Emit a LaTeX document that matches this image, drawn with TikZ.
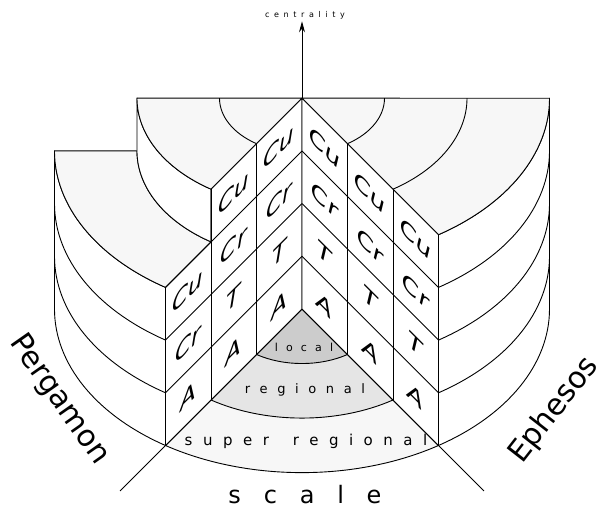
\documentclass[tikz,border=0pt]{standalone}
\usepackage{fontspec}
\setmainfont{DejaVu Sans}
\usetikzlibrary{arrows.meta,positioning,calc}

\newcommand{\wallstep}{45.5}
\newcommand{\tier}{52.7}
\newcommand{\ringx}{82.5}
\newcommand{\ringy}{54.54}
\newcommand{\angl}{236.53}
\newcommand{\angr}{303.47}

\begin{document}
\begin{tikzpicture}[x=1pt, y=1pt, line width=0.9pt, line join=round,
  topface/.style={fill=black!3},
  wallface/.style={fill=white},
  wallletter/.style={transform shape, inner sep=0pt, font=\fontsize{23}{23}\selectfont\itshape},
  lwall/.style={wallletter, cm={1,1,0,1,(0,0)}},
  rwall/.style={wallletter, cm={1,-1,0,1,(0,0)}},
  spaced/.style 2 args={inner sep=0pt, font=\fontsize{#1}{#1}\selectfont\addfontfeature{LetterSpace=#2}},
  city/.style={inner sep=0pt, font=\fontsize{30}{30}\selectfont}]
\useasboundingbox (-302,-201) rectangle (303,309);

% Floor rings and scale axes
\coordinate (o) at (0,0);
\coordinate (ltip) at ({-4*\wallstep},{-4*\wallstep});
\coordinate (rtip) at ({4*\wallstep},{-4*\wallstep});
\foreach \r/\c in {3/black!3,2/black!10,1/black!20}
  \filldraw[fill=\c] (o) -- ({-\r*\wallstep},{-\r*\wallstep}) arc[start angle=\angl, end angle=\angr, x radius=\r*\ringx, y radius=\r*\ringy] -- cycle;
\draw (ltip) -- (o) -- (rtip);

% Pergamon: outer ring (3 tiers)
\filldraw[wallface] ({-3*\ringx},0) -- ({-3*\ringx},{3*\tier}) arc[start angle=180, end angle=\angl, x radius=3*\ringx, y radius=3*\ringy] -- ({-3*\wallstep},{-3*\wallstep}) arc[start angle=\angl, end angle=180, x radius=3*\ringx, y radius=3*\ringy] -- cycle;
\foreach \h in {1,2}
  \draw ({-3*\ringx},{\h*\tier}) arc[start angle=180, end angle=\angl, x radius=3*\ringx, y radius=3*\ringy];
\filldraw[topface] ({-3*\ringx},{3*\tier}) -- ({-2*\ringx},{3*\tier}) arc[start angle=180, end angle=\angl, x radius=2*\ringx, y radius=2*\ringy] -- ({-3*\wallstep},{-3*\wallstep+3*\tier}) arc[start angle=\angl, end angle=180, x radius=3*\ringx, y radius=3*\ringy] -- cycle;

% Pergamon: inner rings (4 tiers)
\filldraw[wallface] ({-2*\ringx},{3*\tier}) -- ({-2*\ringx},{4*\tier}) arc[start angle=180, end angle=\angl, x radius=2*\ringx, y radius=2*\ringy] -- ({-2*\wallstep},{-2*\wallstep+3*\tier}) arc[start angle=\angl, end angle=180, x radius=2*\ringx, y radius=2*\ringy] -- cycle;
\filldraw[topface] (0,{4*\tier}) -- ({-2*\ringx},{4*\tier}) arc[start angle=180, end angle=\angl, x radius=2*\ringx, y radius=2*\ringy] -- cycle;
\draw ({-\ringx},{4*\tier}) arc[start angle=180, end angle=\angl, x radius=\ringx, y radius=\ringy];

% Ephesos: all rings (4 tiers)
\filldraw[wallface] ({3*\wallstep},{-3*\wallstep}) -- ({3*\wallstep},{-3*\wallstep+4*\tier}) arc[start angle=\angr, end angle=360, x radius=3*\ringx, y radius=3*\ringy] -- ({3*\ringx},0) arc[start angle=360, end angle=\angr, x radius=3*\ringx, y radius=3*\ringy] -- cycle;
\foreach \h in {1,2,3}
  \draw ({3*\wallstep},{-3*\wallstep+\h*\tier}) arc[start angle=\angr, end angle=360, x radius=3*\ringx, y radius=3*\ringy];
\filldraw[topface] (0,{4*\tier}) -- ({3*\wallstep},{-3*\wallstep+4*\tier}) arc[start angle=\angr, end angle=360, x radius=3*\ringx, y radius=3*\ringy] -- cycle;
\foreach \r in {1,2}
  \draw ({\r*\wallstep},{-\r*\wallstep+4*\tier}) arc[start angle=\angr, end angle=360, x radius=\r*\ringx, y radius=\r*\ringy];

% Front walls
\filldraw[wallface] (o) -- ({-3*\wallstep},{-3*\wallstep}) -- ++(0,{3*\tier}) -- ({-2*\wallstep},{-2*\wallstep+3*\tier}) -- ++(0,\tier) -- (0,{4*\tier}) -- cycle;
\filldraw[wallface] (o) -- ({3*\wallstep},{-3*\wallstep}) -- ++(0,{4*\tier}) -- (0,{4*\tier}) -- cycle;
\foreach \i in {1,2} {
  \draw ({-\i*\wallstep},{-\i*\wallstep}) -- ++(0,{4*\tier});
  \draw ({\i*\wallstep},{-\i*\wallstep}) -- ++(0,{4*\tier});
}
\foreach \h in {1,2,3}
  \draw ({-3*\wallstep},{-3*\wallstep+\h*\tier}) -- (0,{\h*\tier}) -- ({3*\wallstep},{-3*\wallstep+\h*\tier});

% Wall letters
\foreach \i/\j/\t in {1/1/A,1/2/T,1/3/Cr,1/4/Cu,2/1/A,2/2/T,2/3/Cr,2/4/Cu,3/1/A,3/2/Cr,3/3/Cu}
  \node[lwall] (pg\i\j) at ({-\wallstep*(\i-.5)},{-\wallstep*(\i-.5)+\tier*(\j-.5)}) {\t};
\foreach \i in {1,2,3}
  \foreach \j/\t in {1/A,2/T,3/Cr,4/Cu}
    \node[rwall] (ep\i\j) at ({\wallstep*(\i-.5)},{-\wallstep*(\i-.5)+\tier*(\j-.5)}) {\t};

% Axes and labels
\coordinate (peak) at (0,{4*\tier});
\node[spaced={8}{58}] (cent) at (3,294) {centrality};
\draw[-{Stealth[length=11pt,width=6pt]}, shorten >=2pt] (peak) -- (peak |- cent.south);
\node[spaced={11}{74}] (local) at (2,-38) {local};
\node[spaced={13}{74}] (regional) at (3,-81) {regional};
\node[spaced={15}{70}] (super) at (4,-132) {super\hspace{1.6em}regional};
\node[spaced={24}{95}] (scale) at (3,-186) {scale};
\node[city, rotate=-55] (perg) at (-243,-91) {Pergamon};
\node[city, rotate=52] (ephe) at (252,-101) {Ephesos};

\end{tikzpicture}
\end{document}
